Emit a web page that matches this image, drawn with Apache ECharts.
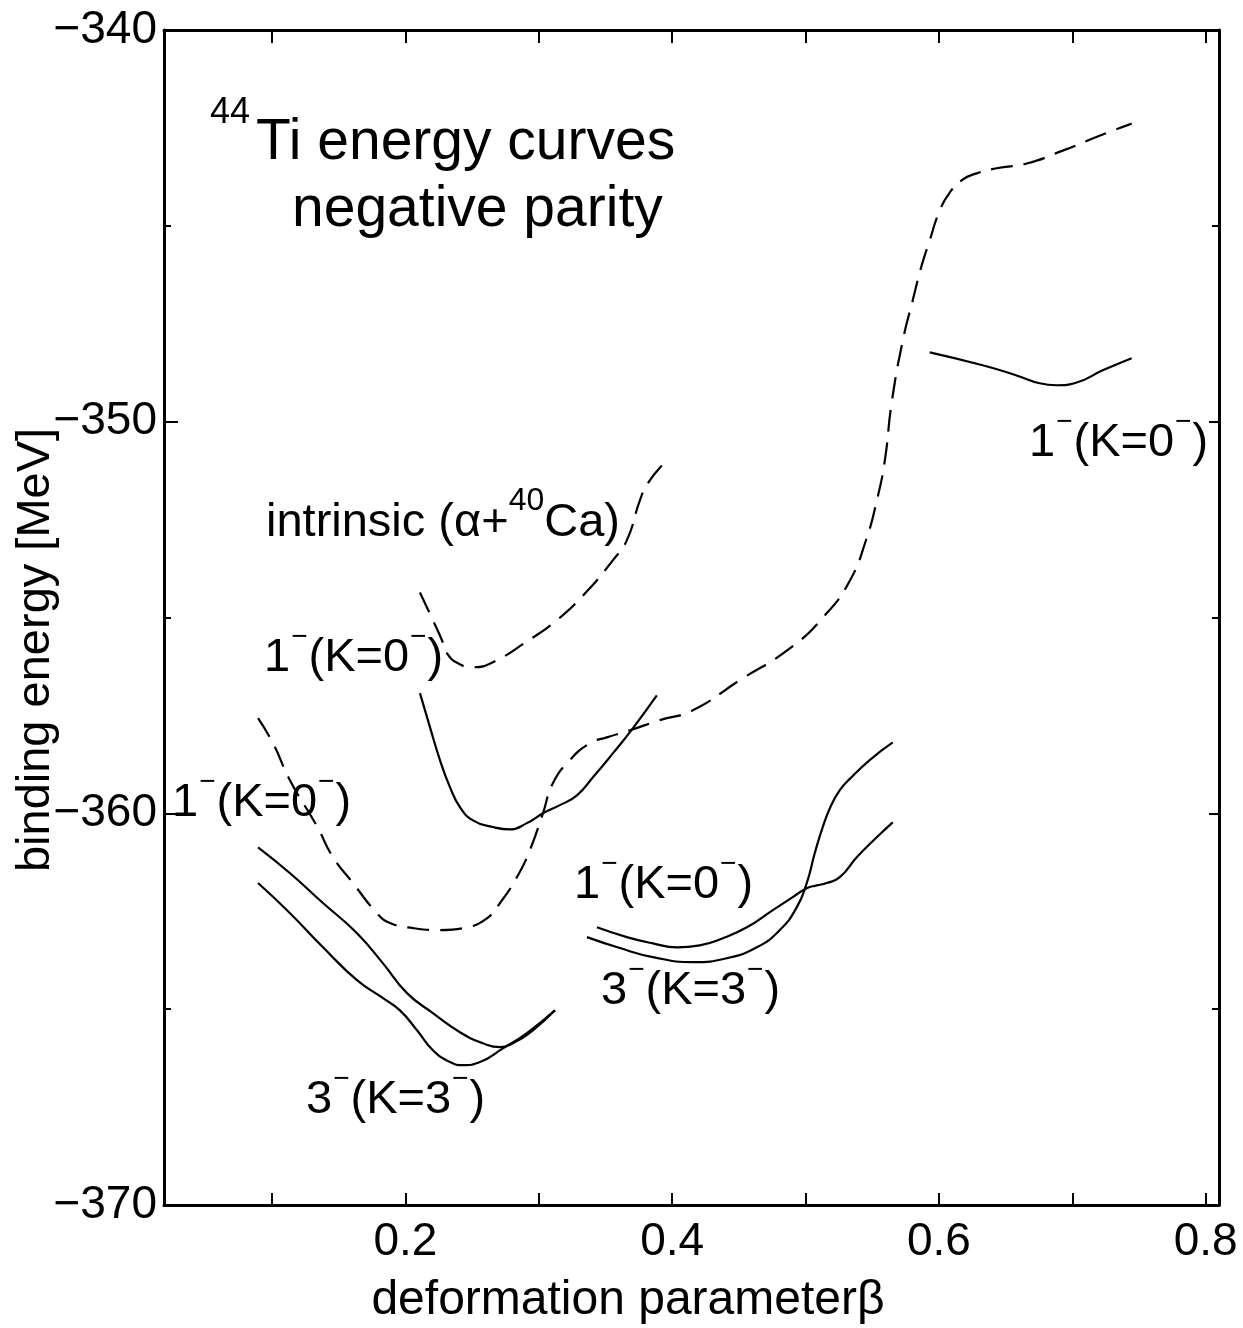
<!DOCTYPE html>
<html><head><meta charset="utf-8">
<script src="https://cdn.jsdelivr.net/npm/echarts@6/dist/echarts.min.js"></script>
<style>html,body{margin:0;padding:0;background:#fff}#c{width:1243px;height:1328px}</style>
</head><body><div id="c"></div>
<script>
// ---- axis ticks / labels ----
const xTicks = [0.1, 0.2, 0.3, 0.4, 0.5, 0.6, 0.7, 0.8];
const xTickLabels = [0.2, 0.4, 0.6, 0.8];
const yTickLabels = [-370, -360, -350, -340];

// ---- curves [beta, energy MeV] ----
// dashed: intrinsic (alpha + 40Ca), upper branch
const intrinsicUpper = [[0.2109,-354.36],[0.2199,-355.02],[0.2274,-355.58],[0.2311,-355.91],[0.2394,-356.17],[0.2506,-356.27],[0.2656,-356.14],[0.2911,-355.61],[0.3136,-355.07],[0.3361,-354.33],[0.3555,-353.54],[0.3660,-353.03],[0.3758,-352.01],[0.3818,-351.57],[0.3945,-351.04]];
// dashed: long intrinsic curve
const intrinsicLong = [[0.0895,-357.57],[0.1007,-358.21],[0.1135,-359.16],[0.1337,-360.33],[0.1457,-361.12],[0.1607,-361.78],[0.1787,-362.55],[0.1884,-362.80],[0.2057,-362.93],[0.2259,-362.98],[0.2461,-362.91],[0.2611,-362.68],[0.2709,-362.29],[0.2836,-361.63],[0.2933,-360.94],[0.3031,-360.00],[0.3106,-359.23],[0.3233,-358.64],[0.3383,-358.21],[0.3510,-358.06],[0.3683,-357.88],[0.3908,-357.62],[0.4155,-357.37],[0.4507,-356.60],[0.4882,-355.79],[0.5144,-354.95],[0.5332,-354.06],[0.5452,-353.04],[0.5534,-352.02],[0.5594,-351.00],[0.5646,-349.51],[0.5729,-347.93],[0.5804,-346.90],[0.5871,-346.01],[0.5931,-345.37],[0.6006,-344.61],[0.6081,-344.15],[0.6178,-343.82],[0.6283,-343.66],[0.6433,-343.53],[0.6658,-343.41],[0.6928,-343.08],[0.7228,-342.67],[0.7445,-342.39]];
// solid: 1-(K=0-) upper
const k0Upper = [[0.2109,-356.93],[0.2184,-357.80],[0.2259,-358.64],[0.2334,-359.33],[0.2409,-359.84],[0.2506,-360.18],[0.2656,-360.35],[0.2784,-360.41],[0.2911,-360.25],[0.3031,-360.00],[0.3158,-359.79],[0.3286,-359.54],[0.3406,-359.08],[0.3555,-358.47],[0.3705,-357.83],[0.3885,-356.99]];
// solid: 1-(K=0-) left
const k0Left = [[0.0895,-360.87],[0.1135,-361.53],[0.1382,-362.29],[0.1637,-363.06],[0.1832,-363.83],[0.2012,-364.59],[0.2206,-365.10],[0.2409,-365.59],[0.2581,-365.87],[0.2709,-365.97],[0.2806,-365.87],[0.2956,-365.54],[0.3121,-365.03]];
// solid: 3-(K=3-) left
const k3Left = [[0.0895,-361.78],[0.1135,-362.55],[0.1382,-363.42],[0.1637,-364.26],[0.1832,-364.72],[0.1959,-365.03],[0.2087,-365.54],[0.2206,-366.05],[0.2334,-366.35],[0.2431,-366.43],[0.2559,-366.35],[0.2731,-366.00],[0.2911,-365.61],[0.3121,-365.03]];
// solid: 1-(K=0-) middle
const k0Mid = [[0.3436,-362.91],[0.3660,-363.16],[0.3855,-363.32],[0.4035,-363.42],[0.4207,-363.37],[0.4380,-363.19],[0.4560,-362.91],[0.4755,-362.47],[0.4904,-362.14],[0.5009,-361.91],[0.5084,-361.84],[0.5159,-361.78],[0.5257,-361.63],[0.5384,-361.12],[0.5534,-360.61],[0.5654,-360.23]];
// solid: 3-(K=3-) middle
const k3Mid = [[0.3361,-363.16],[0.3608,-363.44],[0.3855,-363.67],[0.4155,-363.80],[0.4410,-363.70],[0.4635,-363.42],[0.4807,-362.98],[0.4934,-362.40],[0.5009,-361.78],[0.5069,-361.02],[0.5129,-360.35],[0.5189,-359.82],[0.5257,-359.41],[0.5332,-359.12],[0.5481,-358.64],[0.5654,-358.19]];
// solid: 1-(K=0-) right
const k0Right = [[0.5931,-348.23],[0.6328,-348.56],[0.6583,-348.82],[0.6756,-349.02],[0.6883,-349.07],[0.7033,-349.00],[0.7228,-348.69],[0.7445,-348.38]];

const FONT = '"Liberation Sans", Arial, Helvetica, sans-serif';
const BLACK = '#000';

function lineSeries(data, dashed) {
  return {
    type: 'line', data: data, showSymbol: false, symbol: 'none', smooth: 0.5,
    silent: true, animation: false,
    lineStyle: { color: BLACK, width: 2.2, type: dashed ? [22, 11] : 'solid' }
  };
}

const richLbl = {
  n: { fontSize: 47, fontFamily: FONT, fill: BLACK, verticalAlign: 'bottom' },
  s: { fontSize: 32, fontFamily: FONT, fill: BLACK, verticalAlign: 'top', padding: [0, 0, 30, 0] },
  m: { fontSize: 28, fontFamily: FONT, fill: BLACK, verticalAlign: 'top', padding: [0, 1, 31, 1] }
};
const richTitle = {
  n: { fontSize: 57, fontFamily: FONT, fill: BLACK, verticalAlign: 'bottom' },
  s: { fontSize: 36, fontFamily: FONT, fill: BLACK, verticalAlign: 'top', padding: [0, 6, 41, 0] }
};

function txt(text, x, baseline, big) {
  return {
    type: 'text', x: x, y: baseline + (big ? 9 : 7), z: 100, silent: true,
    style: {
      text: text, rich: big ? richTitle : richLbl, fill: BLACK,
      align: 'left', verticalAlign: 'bottom', textAlign: 'left', textVerticalAlign: 'bottom'
    }
  };
}

const lbl1 = '{n|1}{m|\u2212}{n|(K=0}{m|\u2212}{n|)}';
const lbl3 = '{n|3}{m|\u2212}{n|(K=3}{m|\u2212}{n|)}';

const axisLineStyle = { show: true, onZero: false, lineStyle: { color: BLACK, width: 3 } };

const option = {
  backgroundColor: '#fff',
  animation: false,
  grid: { left: 164, right: 24, top: 30, bottom: 123, containLabel: false, outerBoundsMode: 'none' },
  xAxis: [
    {
      type: 'value', position: 'bottom', min: 0.019, max: 0.81,
      axisLine: axisLineStyle,
      axisTick: { show: true, inside: true, length: 12, customValues: xTicks, lineStyle: { color: BLACK, width: 2 } },
      axisLabel: { show: true, customValues: xTickLabels, margin: 14, fontSize: 46, fontFamily: FONT, color: BLACK,
                   formatter: function (v) { return Number(v).toFixed(1); } },
      splitLine: { show: false },
      name: 'deformation parameter\u03b2', nameLocation: 'middle', nameGap: 72,
      nameTextStyle: { fontSize: 48, fontFamily: FONT, color: BLACK, padding: [0, 127, 0, 0] }
    },
    {
      type: 'value', position: 'top', min: 0.019, max: 0.81,
      axisLine: axisLineStyle,
      axisTick: { show: true, inside: true, length: 13, customValues: xTicks, lineStyle: { color: BLACK, width: 2 } },
      axisLabel: { show: false },
      splitLine: { show: false }
    }
  ],
  yAxis: [
    {
      type: 'value', position: 'left', min: -370, max: -340, interval: 10,
      axisLine: axisLineStyle,
      axisTick: { show: true, inside: true, length: 14, lineStyle: { color: BLACK, width: 2 } },
      minorTick: { show: true, splitNumber: 2, length: 7, lineStyle: { color: BLACK, width: 2 } },
      axisLabel: { show: true, customValues: yTickLabels, margin: 7, fontSize: 46, fontFamily: FONT, color: BLACK,
                   formatter: function (v) { return String(v).replace('-', '\u2212'); } },
      splitLine: { show: false }, minorSplitLine: { show: false },
      name: 'binding energy [MeV]', nameLocation: 'middle', nameGap: 104, nameRotate: 90,
      nameMoveOverlap: false,
      nameTextStyle: { fontSize: 47, fontFamily: FONT, color: BLACK, padding: [0, 65, 0, 0] }
    },
    {
      type: 'value', position: 'right', min: -370, max: -340, interval: 10,
      axisLine: axisLineStyle,
      axisTick: { show: true, inside: true, length: 10, lineStyle: { color: BLACK, width: 2 } },
      minorTick: { show: true, splitNumber: 2, length: 7, lineStyle: { color: BLACK, width: 2 } },
      axisLabel: { show: false },
      splitLine: { show: false }, minorSplitLine: { show: false }
    }
  ],
  series: [
    lineSeries(intrinsicUpper, true),
    lineSeries(intrinsicLong, true),
    lineSeries(k0Upper, false),
    lineSeries(k0Left, false),
    lineSeries(k3Left, false),
    lineSeries(k0Mid, false),
    lineSeries(k3Mid, false),
    lineSeries(k0Right, false)
  ],
  graphic: [
    txt('{s|44}{n|Ti energy curves}', 210, 163, true),
    txt('{n|negative parity}', 292, 230, true),
    txt('{n|intrinsic (\u03b1+}{s|40}{n|Ca)}', 266, 540, false),
    txt(lbl1, 264, 675, false),
    txt(lbl1, 172, 820, false),
    txt(lbl1, 574, 902, false),
    txt(lbl3, 601, 1008, false),
    txt(lbl3, 306, 1117, false),
    txt(lbl1, 1029, 460, false)
  ]
};

const chart = echarts.init(document.getElementById('c'), null, { renderer: 'canvas' });
chart.setOption(option);
</script>
</body></html>
